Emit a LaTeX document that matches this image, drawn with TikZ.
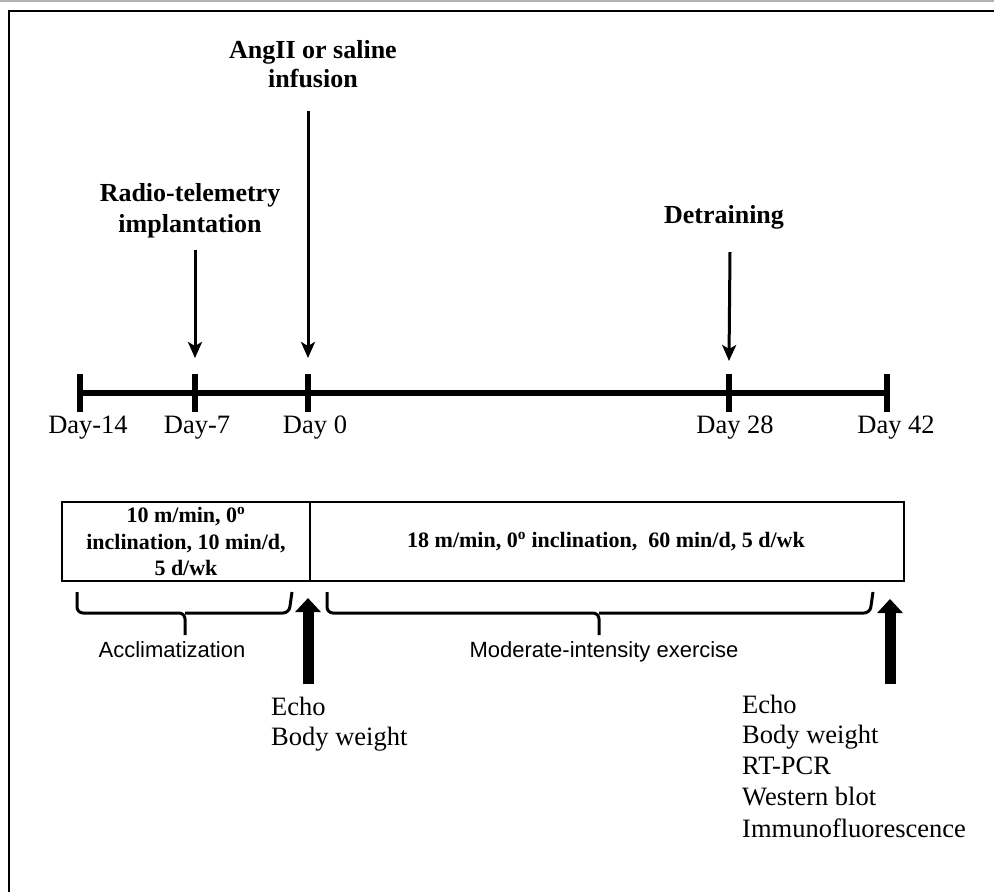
\documentclass[tikz,border=0pt]{standalone}
\usepackage{fontspec}
\setmainfont{Liberation Serif}
\setsansfont{Liberation Sans}
\usetikzlibrary{arrows.meta}
\begin{document}
\begin{tikzpicture}[x=1pt,y=-1pt,
  lbl/.style={font=\fontsize{26.5}{31}\selectfont, inner sep=0pt, anchor=base},
  hdr/.style={font=\fontsize{26}{31}\selectfont\bfseries, inner sep=0pt, anchor=base},
  boxtxt/.style={font=\fontsize{22}{27}\selectfont\bfseries, inner sep=0pt, anchor=base},
  sanslbl/.style={font=\sffamily\fontsize{22}{27}\selectfont, inner sep=0pt, anchor=base},
  downarrow/.style={line width=3pt, -{Stealth[length=16pt,width=14pt,inset=4pt]}},
  uparrow/.style={line width=11pt, -{Triangle[length=14pt,width=25pt]}},
  tick/.style={line width=6pt},
  brace/.style={line width=3pt, rounded corners=6pt},
]
\useasboundingbox (0,0) rectangle (994,892);
% frame
\draw[gray!60, line width=1.5pt] (0,1) -- (994,1);
\draw[line width=2pt] (9,900) -- (9,11) -- (1000,11);

% timeline
\coordinate (t14) at (80,393);
\coordinate (t7) at (195,393);
\coordinate (t0) at (308,393);
\coordinate (t28) at (729,393);
\coordinate (t42) at (887,393);
\draw[line width=6pt] (t14) -- (t42);
\foreach \t in {t14,t7,t0,t28,t42}{
  \draw[tick] ([yshift=-19pt]\t) -- ([yshift=19pt]\t);
}
\node[lbl] (d14) at (88,433) {Day-14};
\node[lbl] (d7) at (197,433) {Day-7};
\node[lbl] (d0) at (315,433) {Day 0};
\node[lbl] (d28) at (735,433) {Day 28};
\node[lbl] (d42) at (896,433) {Day 42};

% headers
\node[hdr] (ang1) at (313,58) {AngII or saline};
\node[hdr] (ang2) at (313,87) {infusion};
\node[hdr] (rad1) at (190,201) {Radio-telemetry};
\node[hdr] (rad2) at (190,232) {implantation};
\node[hdr] (det) at (724,223) {Detraining};

\coordinate (a0s) at (308,111);
\coordinate (a7s) at (195,250);
\coordinate (a28s) at (730,252);
\draw[downarrow] (a0s) -- ([yshift=35pt]t0);
\draw[downarrow] (a7s) -- ([yshift=35pt]t7);
\draw[downarrow] (a28s) -- ([yshift=32pt]t28);

% boxes
\draw[line width=2pt] (62,502) rectangle (310,581);
\draw[line width=2pt] (310,502) rectangle (904,581);
\node[boxtxt] (b1a) at (186,522) {10 m/min, 0\textsuperscript{o}};
\node[boxtxt] (b1b) at (186,549) {inclination, 10 min/d,};
\node[boxtxt] (b1c) at (186,575) {5 d/wk};
\node[boxtxt] (b2) at (606,547) {18 m/min, 0\textsuperscript{o} inclination, \ 60 min/d, 5 d/wk};

% braces
\draw[brace] (77,592) -- (77,613) -- (185,613) -- (185,635);
\draw[brace] (185,613) -- (289,613) -- (292,592);
\draw[brace] (327,592) -- (327,613) -- (599,613) -- (599,635);
\draw[brace] (599,613) -- (870,613) -- (873,592);
\node[sanslbl] (accl) at (172,657) {Acclimatization};
\node[sanslbl] (mod) at (604,657) {Moderate-intensity exercise};

% up arrows
\coordinate (u1) at (308,684);
\coordinate (u2) at (890,684);
\draw[uparrow] (u1) -- ([yshift=86pt]u1);
\draw[uparrow] (u2) -- ([yshift=85pt]u2);

% measurement lists
\node[lbl, anchor=base west] (e1) at (271,715) {Echo};
\node[lbl, anchor=base west] (e2) at (271,745) {Body weight};
\node[lbl, anchor=base west] (f1) at (742,713) {Echo};
\node[lbl, anchor=base west] (f2) at (742,743) {Body weight};
\node[lbl, anchor=base west] (f3) at (742,774) {RT-PCR};
\node[lbl, anchor=base west] (f4) at (742,805) {Western blot};
\node[lbl, anchor=base west] (f5) at (742,837) {Immunofluorescence};
\end{tikzpicture}
\end{document}
